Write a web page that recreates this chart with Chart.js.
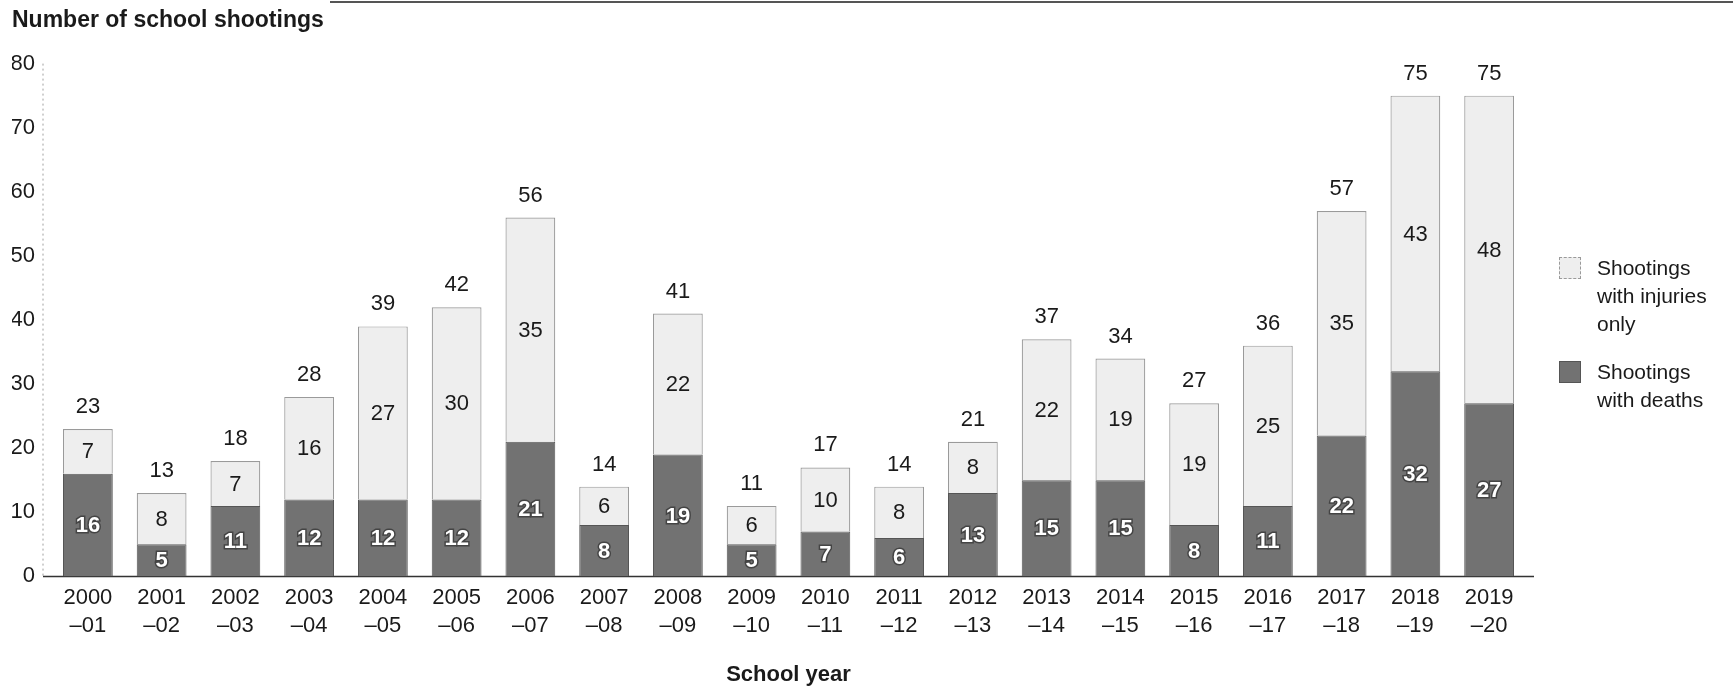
<!DOCTYPE html>
<html>
<head>
<meta charset="utf-8">
<script src="https://cdn.jsdelivr.net/npm/chart.js@4"></script>
<style>
  body { margin: 0; background: #fff; }
  #wrap { position: relative; width: 1733px; height: 690px; }
  #topline { position: absolute; top: 1px; left: 330px; right: 0; height: 2px; background: #555; }
  #legend { position: absolute; left: 1559px; top: 254px; font-family: "Liberation Sans", Arial, sans-serif; font-size: 21px; color: #1a1a1a; line-height: 28px; }
  .item { position: relative; padding-left: 38px; margin-bottom: 20px; }
  .box { position: absolute; left: 0; top: 3px; width: 22px; height: 22px; box-sizing: border-box; }
</style>
</head>
<body>
<div id="wrap">
  <canvas id="myChart" width="1733" height="690"></canvas>
  <div id="topline"></div>
  <div id="legend"></div>
</div>
<script>
const years = ['2000', '2001', '2002', '2003', '2004', '2005', '2006', '2007', '2008', '2009',
  '2010', '2011', '2012', '2013', '2014', '2015', '2016', '2017', '2018', '2019'];
const yearEnds = ['–01', '–02', '–03', '–04', '–05', '–06', '–07', '–08', '–09', '–10',
  '–11', '–12', '–13', '–14', '–15', '–16', '–17', '–18', '–19', '–20'];
const deaths = [16, 5, 11, 12, 12, 12, 21, 8, 19, 5, 7, 6, 13, 15, 15, 8, 11, 22, 32, 27];
const injuriesOnly = [7, 8, 7, 16, 27, 30, 35, 6, 22, 6, 10, 8, 8, 22, 19, 19, 25, 35, 43, 48];
const yTicks = [0, 10, 20, 30, 40, 50, 60, 70, 80];

const FONT = '"Liberation Sans", Arial, sans-serif';
const darkFill = '#727272';
const lightFill = '#eeeeee';

// axis lines: dotted y axis a bit left of the plot, solid baseline
const axisLines = {
  id: 'axisLines',
  beforeDatasetsDraw(chart) {
    const { ctx, chartArea } = chart;
    const y0 = chart.scales.y.getPixelForValue(0);
    const x0 = chartArea.left - 8;
    ctx.save();
    ctx.strokeStyle = '#a0a0a0';
    ctx.lineWidth = 1;
    ctx.setLineDash([2, 3]);
    ctx.beginPath();
    ctx.moveTo(x0, chartArea.top);
    ctx.lineTo(x0, y0);
    ctx.stroke();
    ctx.setLineDash([]);
    ctx.strokeStyle = '#333';
    ctx.lineWidth = 1.5;
    ctx.beginPath();
    ctx.moveTo(x0, y0);
    ctx.lineTo(chartArea.right + 8, y0);
    ctx.stroke();
    ctx.restore();
  }
};

// labels inside segments and totals on top
const barLabels = {
  id: 'barLabels',
  afterDatasetsDraw(chart) {
    const ctx = chart.ctx;
    ctx.save();
    ctx.textAlign = 'center';
    ctx.textBaseline = 'middle';
    chart.data.datasets.forEach((ds, di) => {
      const meta = chart.getDatasetMeta(di);
      meta.data.forEach((bar, i) => {
        const yMid = (bar.y + bar.base) / 2;
        if (di === 0) {
          ctx.font = 'bold 22px ' + FONT;
          ctx.lineWidth = 3;
          ctx.strokeStyle = '#444';
          ctx.strokeText(ds.data[i], bar.x, yMid + 1);
          ctx.fillStyle = '#fff';
          ctx.fillText(ds.data[i], bar.x, yMid + 1);
        } else {
          ctx.font = '22px ' + FONT;
          ctx.fillStyle = '#1a1a1a';
          ctx.fillText(ds.data[i], bar.x, yMid + 1);
          ctx.fillText(deaths[i] + injuriesOnly[i], bar.x, bar.y - 22);
        }
      });
    });
    ctx.restore();
  }
};

const ctx = document.getElementById('myChart').getContext('2d');

const config = {
  type: 'bar',
  data: {
    labels: years.map((y, i) => [y, yearEnds[i]]),
    datasets: [{
      label: 'Shootings with deaths',
      data: deaths,
      backgroundColor: darkFill,
      borderColor: '#555',
      borderWidth: 1
    }, {
      label: 'Shootings with injuries only',
      data: injuriesOnly,
      backgroundColor: lightFill,
      borderColor: '#9a9a9a',
      borderWidth: 1.2
    }]
  },
  options: {
    responsive: false,
    animation: false,
    layout: { padding: { left: 12, right: 207, top: 0, bottom: 0 } },
    datasets: { bar: { categoryPercentage: 1, barPercentage: 0.675 } },
    plugins: {
      legend: { display: false },
      tooltip: { enabled: false },
      title: {
        display: true,
        text: 'Number of school shootings',
        align: 'start',
        color: '#1a1a1a',
        font: { family: FONT, size: 23, weight: 'bold' },
        padding: { top: 7, bottom: 29 }
      }
    },
    scales: {
      x: {
        stacked: true,
        grid: { display: false, drawTicks: false },
        border: { display: false },
        ticks: { color: '#1a1a1a', padding: 7, maxRotation: 0, autoSkip: false,
          font: { family: FONT, size: 22, lineHeight: 1.3 } },
        title: { display: true, text: 'School year', color: '#1a1a1a',
          font: { family: FONT, size: 22, weight: 'bold' }, padding: { top: 14, bottom: 2 } }
      },
      y: {
        stacked: true,
        min: 0,
        max: 80,
        afterFit: (scale) => { scale.width = 39; },
        afterBuildTicks: (scale) => { scale.ticks = yTicks.map(v => ({ value: v })); },
        grid: { display: false, drawTicks: false },
        border: { display: false },
        ticks: { color: '#1a1a1a', padding: 16, font: { family: FONT, size: 22 } }
      }
    }
  },
  plugins: [axisLines, barLabels]
};

const chart = new Chart(ctx, config);

// legend on the right, injuries first as in the original
const legend = document.getElementById('legend');
[[1, ['Shootings', 'with injuries', 'only']], [0, ['Shootings', 'with deaths']]].forEach(([di, lines]) => {
  const ds = chart.data.datasets[di];
  const item = document.createElement('div');
  item.className = 'item';
  const box = document.createElement('span');
  box.className = 'box';
  box.style.background = ds.backgroundColor;
  box.style.border = (di === 1 ? '1px dashed ' : '1px solid ') + ds.borderColor;
  item.appendChild(box);
  item.innerHTML += lines.join('<br>');
  legend.appendChild(item);
});
</script>
</body>
</html>
